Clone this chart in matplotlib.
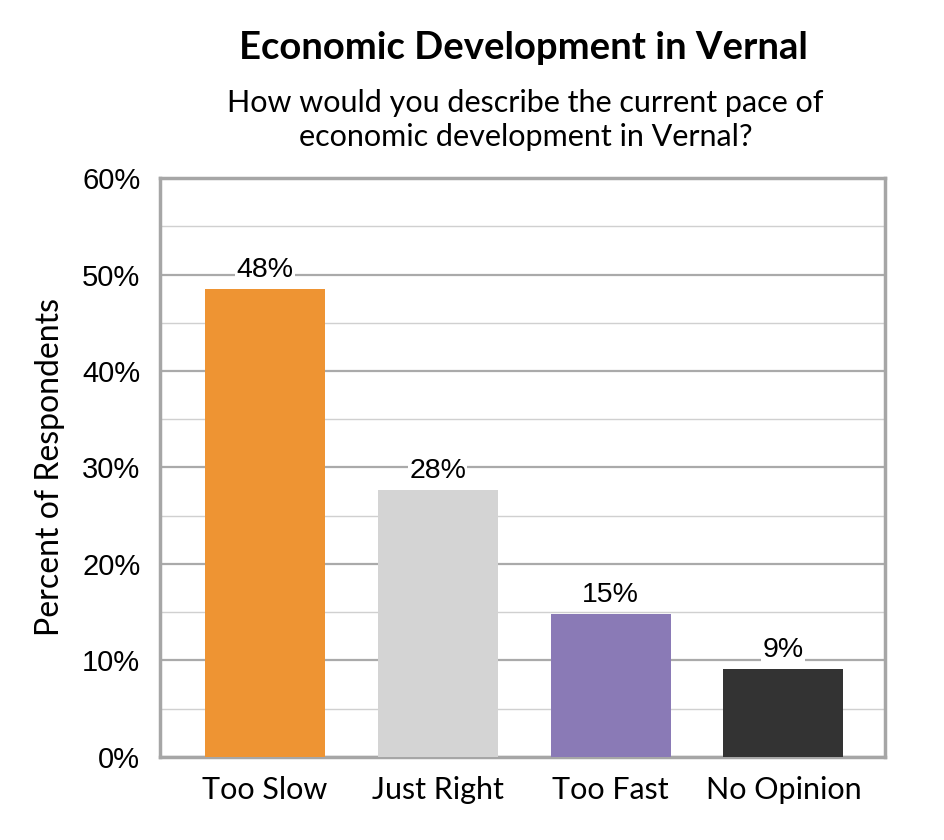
import numpy as np
import matplotlib.pyplot as plt
from matplotlib.ticker import MultipleLocator, FuncFormatter

categories = ["Too Slow", "Just Right", "Too Fast", "No Opinion"]
values = [48.5, 27.7, 14.8, 9.1]
labels = ["48%", "28%", "15%", "9%"]
colors = ["#EE9433", "#D4D4D4", "#8A7AB6", "#333333"]

fig = plt.figure(figsize=(9.45, 8.4), dpi=100)
ax = fig.add_axes([0.169, 0.099, 0.768, 0.689])

x = np.arange(len(categories))
ax.bar(x, values, width=0.694, color=colors, zorder=3)

for xi, v, lab in zip(x, values, labels):
    ax.text(xi, v + 0.6, lab, ha="center", va="bottom", fontsize=20.5,
            family="Liberation Sans", zorder=4,
            bbox=dict(facecolor="white", edgecolor="none", pad=1))

ax.set_xlim(-0.607, 3.59)
ax.set_ylim(0, 60)
ax.yaxis.set_major_locator(MultipleLocator(10))
ax.yaxis.set_minor_locator(MultipleLocator(5))
ax.yaxis.set_major_formatter(FuncFormatter(lambda v, p: f"{v:.0f}%"))
ax.grid(axis="y", which="major", color="#AAAAAA", linewidth=1.6, zorder=0)
ax.grid(axis="y", which="minor", color="#D0D0D0", linewidth=1.0, zorder=0)
ax.set_xticks(x)
ax.set_xticklabels(categories, fontsize=22, family="Lato")
ax.tick_params(axis="both", which="both", length=0)
ax.tick_params(axis="y", labelsize=21, pad=14)
ax.tick_params(axis="x", pad=14)
for t in ax.get_yticklabels():
    t.set_family("Liberation Sans")
for s in ax.spines.values():
    s.set_color("#A6A6A6")
    s.set_linewidth(2.5)

ax.set_ylabel("Percent of Respondents", fontsize=23, family="Lato", labelpad=12)

fig.text(0.554, 0.943, "Economic Development in Vernal", ha="center", va="center",
         fontsize=27.5, fontweight="bold", family="Lato")
fig.text(0.556, 0.857, "How would you describe the current pace of\neconomic development in Vernal?",
         ha="center", va="center", fontsize=22, family="Lato", linespacing=1.25)

fig.savefig("out.png", dpi=100)
